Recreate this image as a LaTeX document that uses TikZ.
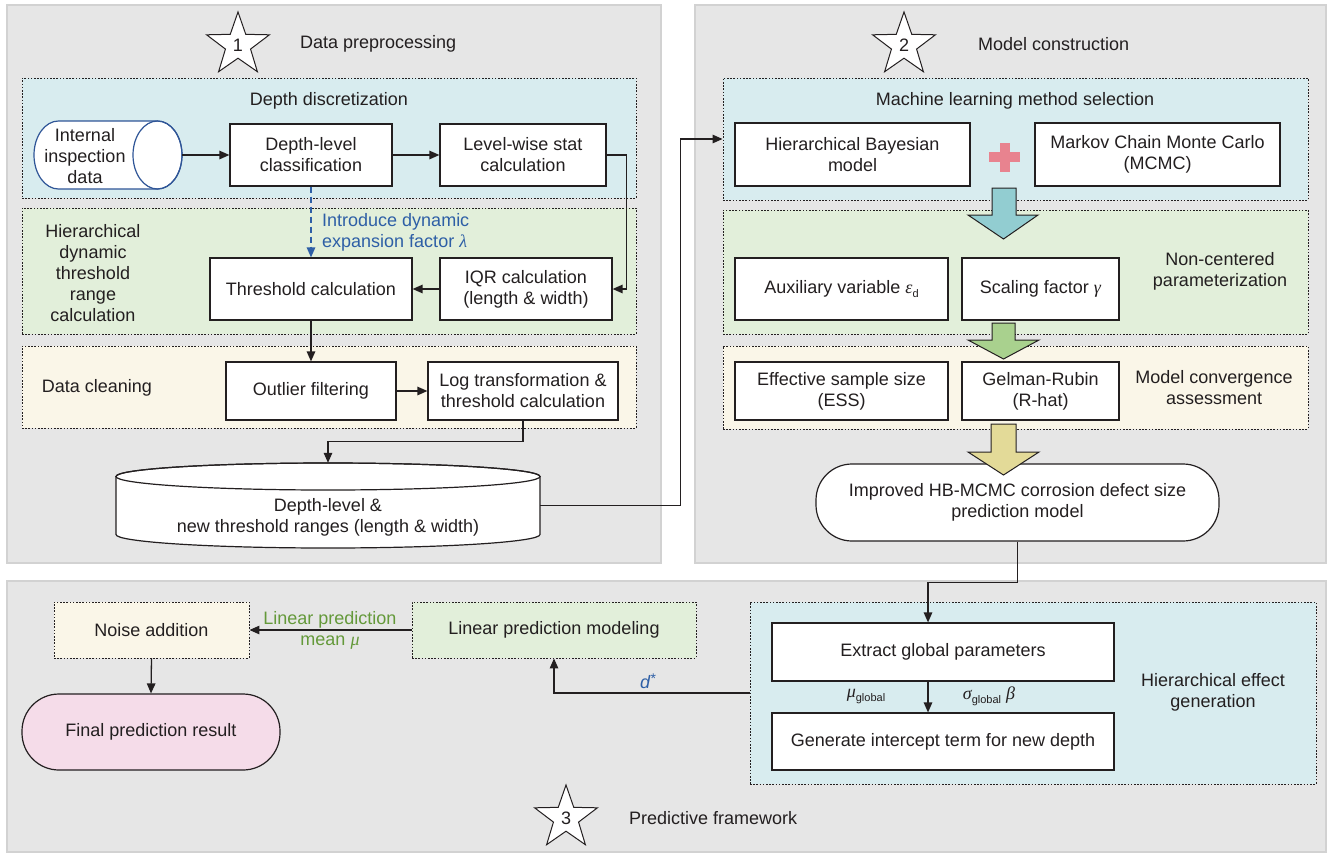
\documentclass[tikz,border=0pt]{standalone}
\usepackage{fontspec}
\setmainfont{Liberation Sans}
\newfontfamily\grkfont{Liberation Serif}
\usetikzlibrary{arrows.meta,shapes.geometric,calc}

\definecolor{txt}{HTML}{231F20}
\definecolor{panelgray}{HTML}{E6E6E6}
\definecolor{panelline}{HTML}{D2D2D2}
\definecolor{lblue}{HTML}{D8ECEF}
\definecolor{lgreen}{HTML}{E2EFDA}
\definecolor{lyellow}{HTML}{FAF6E8}
\definecolor{lpink}{HTML}{F5DCE9}
\definecolor{cylblue}{HTML}{2F5597}
\definecolor{dblue}{HTML}{2E5FA6}
\definecolor{dgreen}{HTML}{64993A}
\definecolor{plusred}{HTML}{E8838F}
\definecolor{arrteal}{HTML}{92CDD1}
\definecolor{arrgreen}{HTML}{A9D18E}
\definecolor{arrkhaki}{HTML}{E3DA98}

\newcommand{\gk}[1]{{\grkfont\itshape #1}}
\newcommand{\smallsub}[1]{\raisebox{-4pt}{\fontsize{11}{12}\selectfont #1}}
\newcommand{\smallsup}[1]{\raisebox{5pt}{\fontsize{14}{14}\selectfont #1}}

\begin{document}
\begin{tikzpicture}[x=1pt,y=-1pt,
  font=\fontsize{18}{21}\selectfont, text=txt,
  panel/.style={fill=panelgray, draw=panelline, line width=1.2pt, inner sep=0},
  group/.style={draw=txt, line width=0.9pt, dash pattern=on 1.6pt off 1.6pt, inner sep=0, align=center},
  box/.style={draw=txt, fill=white, line width=1.2pt, align=center, inner sep=0},
  arr/.style={draw=txt, line width=1.3pt, -{Triangle[length=10pt,width=8.5pt]}},
  lbl/.style={align=center, inner sep=0},
  blockarr/.style={draw=txt, line width=1pt},
  starnode/.style={star, star points=5, star point ratio=2.5, draw=txt, fill=white, line width=1pt, minimum size=66pt, inner sep=0}
]
\useasboundingbox (0,0) rectangle (1329,854);
\fill[white] (0,0) rectangle (1329,854);

% ---------- panels ----------
\node[panel, minimum width=654pt, minimum height=558pt] (p1) at (334,284) {};
\node[panel, minimum width=631pt, minimum height=558pt] (p2) at (1010.5,284) {};
\node[panel, minimum width=1319pt, minimum height=271pt] (p3) at (666.5,716.5) {};

% ---------- groups ----------
\node[group, fill=lblue, minimum width=614pt, minimum height=120pt] (g1) at (329,138) {};
\node[group, fill=lgreen, minimum width=614pt, minimum height=126pt] (g2) at (329,271) {};
\node[group, fill=lyellow, minimum width=614pt, minimum height=82pt] (g3) at (329,387) {};
\node[group, fill=lblue, minimum width=585pt, minimum height=122pt] (g4) at (1015.5,139) {};
\node[group, fill=lgreen, minimum width=585pt, minimum height=124pt] (g5) at (1015.5,272) {};
\node[group, fill=lyellow, minimum width=585pt, minimum height=83pt] (g6) at (1015.5,387.5) {};
\node[group, fill=lblue, minimum width=566pt, minimum height=182pt] (g7) at (1033,693) {};
\node[group, fill=lyellow, minimum width=195pt, minimum height=56pt] (g8) at (151.5,630) {Noise addition};
\node[group, fill=lgreen, minimum width=284pt, minimum height=56pt] (g9) at (554,630) {Linear prediction modeling};

% ---------- stars and titles ----------
\node[starnode] (s1) at (238,45) {1};
\node[lbl, anchor=west] (t1) at (300,44) {Data preprocessing};
\node[starnode] (s2) at (904,45) {2};
\node[lbl, anchor=west] (t2) at (978,44) {Model construction};
\node[starnode] (s3) at (566,818) {3};
\node[lbl, anchor=west] (t3) at (629,818) {Predictive framework};

% ---------- panel 1 ----------
\node[lbl] (g1t) at (329,101) {Depth discretization};

% horizontal cylinder
\node[inner sep=0, minimum width=148pt, minimum height=68pt] (inp) at (108,155) {};
\draw[fill=white, draw=cylblue, line width=1.2pt]
  (58.5,121) arc[start angle=270, end angle=90, x radius=24.5, y radius=34]
  -- (157.5,189) arc[start angle=90, end angle=-90, x radius=24.5, y radius=34] -- cycle;
\draw[draw=cylblue, line width=1.2pt] (157.5,155) ellipse [x radius=24.5, y radius=34];
\node[lbl] (inpt) at (85,156) {Internal\\inspection\\data};

\node[box, minimum width=162pt, minimum height=62pt] (dlc) at (311,155) {Depth-level\\classification};
\node[box, minimum width=166pt, minimum height=62pt] (lws) at (523,155) {Level-wise stat\\calculation};

\node[lbl] (g2t) at (93,273) {Hierarchical\\dynamic\\threshold\\range\\calculation};
\node[box, minimum width=202pt, minimum height=62pt] (thr) at (311,289) {Threshold calculation};
\node[box, minimum width=172pt, minimum height=62pt] (iqr) at (526,289) {IQR calculation\\(length \& width)};
\node[lbl, anchor=west, align=left, text=dblue] (lam) at (322,232) {Introduce dynamic\\expansion factor \gk{λ}};

\node[lbl] (g3t) at (97,388) {Data cleaning};
\node[box, minimum width=170pt, minimum height=58pt] (out) at (311,391) {Outlier filtering};
\node[box, minimum width=190pt, minimum height=58pt] (log) at (523,391) {Log transformation \&\\threshold calculation};

% vertical cylinder
\node[inner sep=0, minimum width=424pt, minimum height=85pt] (dcyl) at (328,505.5) {};
\draw[fill=white, draw=txt, line width=1.2pt]
  (116,476.5) -- (116,534.5) arc[start angle=180, end angle=0, x radius=212, y radius=13.5]
  -- (540,476.5) arc[start angle=0, end angle=-180, x radius=212, y radius=13.5] -- cycle;
\draw[draw=txt, line width=1.2pt] (328,476.5) ellipse [x radius=212, y radius=13.5];
\node[lbl] (dcylt) at (328,517) {Depth-level \&\\new threshold ranges (length \& width)};

% connectors panel 1
\draw[arr] (inp.east) -- (dlc.west);
\draw[arr] (dlc.east) -- (lws.west);
\draw[arr] (lws.east) -- ++(20,0) |- (iqr.east);
\draw[arr] (iqr.west) -- (thr.east);
\draw[arr, draw=dblue, dash pattern=on 6pt off 4pt, -{Triangle[length=10pt,width=8.5pt,fill=dblue]}] (dlc.south) -- (thr.north);
\draw[arr] (thr.south) -- (out.north);
\draw[arr] (out.east) -- (log.west);
\draw[arr] (log.south) -- ++(0,21) -| (dcyl.north);
\draw[arr] (dcyl.east) -- ++(140,0) |- (g4.west);

% ---------- panel 2 ----------
\node[lbl] (g4t) at (1015,101) {Machine learning method selection};
\node[box, minimum width=235pt, minimum height=63pt] (hbm) at (852.5,154.5) {Hierarchical Bayesian\\model};
\node[box, minimum width=245pt, minimum height=63pt] (mcmc) at (1157.5,154.5) {Markov Chain Monte Carlo\\(MCMC)};
\fill[plusred] (989,152) rectangle (1020,162);
\fill[plusred] (999.5,143) rectangle (1009.5,172);

\node[box, minimum width=213pt, minimum height=62pt] (aux) at (841.5,289) {Auxiliary variable \gk{ε}\smallsub{d}};
\node[box, minimum width=157pt, minimum height=62pt] (scl) at (1040.5,289) {Scaling factor \gk{γ}};
\node[lbl] (g5t) at (1220,271) {Non-centered\\parameterization};

\node[box, minimum width=213pt, minimum height=58pt] (ess) at (841.5,391) {Effective sample size\\(ESS)};
\node[box, minimum width=157pt, minimum height=58pt] (gr) at (1040.5,391) {Gelman-Rubin\\(R-hat)};
\node[lbl] (g6t) at (1214,388) {Model convergence\\assessment};

\node[box, rounded corners=36pt, minimum width=403pt, minimum height=77pt] (imp) at (1017.5,502.5) {Improved HB-MCMC corrosion defect size\\prediction model};

% block arrows
\draw[blockarr, fill=arrteal] (992,188) -- (1016,188) -- (1016,215) -- (1038,215) -- (1003.5,239) -- (968,215) -- (992,215) -- cycle;
\draw[blockarr, fill=arrgreen] (992,323) -- (1015,323) -- (1015,340) -- (1039,340) -- (1003.5,359) -- (968,340) -- (992,340) -- cycle;
\draw[blockarr, fill=arrkhaki] (991,424) -- (1016,424) -- (1016,452) -- (1039,452) -- (1003.5,475) -- (968,452) -- (991,452) -- cycle;

% ---------- panel 3 ----------
\node[box, minimum width=342pt, minimum height=58pt] (ext) at (943,652) {Extract global parameters};
\node[box, minimum width=342pt, minimum height=57pt] (gen) at (943,741.5) {Generate intercept term for new depth};
\node[lbl] (g7t) at (1213,692) {Hierarchical effect\\generation};
\node[lbl] (mug) at (866,696) {\gk{μ}\smallsub{global}};
\node[lbl] (sig) at (989,696) {\gk{σ}\smallsub{global} \gk{β}};
\node[box, fill=lpink, rounded corners=37pt, minimum width=258pt, minimum height=76pt] (fin) at (151,732) {Final prediction result};
\node[lbl, text=dgreen] (lpm) at (330,630) {Linear prediction\\mean \gk{μ}};
\node[lbl, text=dblue] (dst) at (648,681) {\textit{d}\smallsup{*}};

\coordinate (extx) at (928,0);
\draw[arr] (imp.south) -- ++(0,41) -| (ext.north -| extx);
\draw[arr] (ext.south -| extx) -- (gen.north -| extx);
\draw[arr] (g7.west) -| (g9.south);
\draw[arr] (g9.west) -- (g8.east);
\draw[arr] (g8.south) -- (fin.north);
\end{tikzpicture}
\end{document}
